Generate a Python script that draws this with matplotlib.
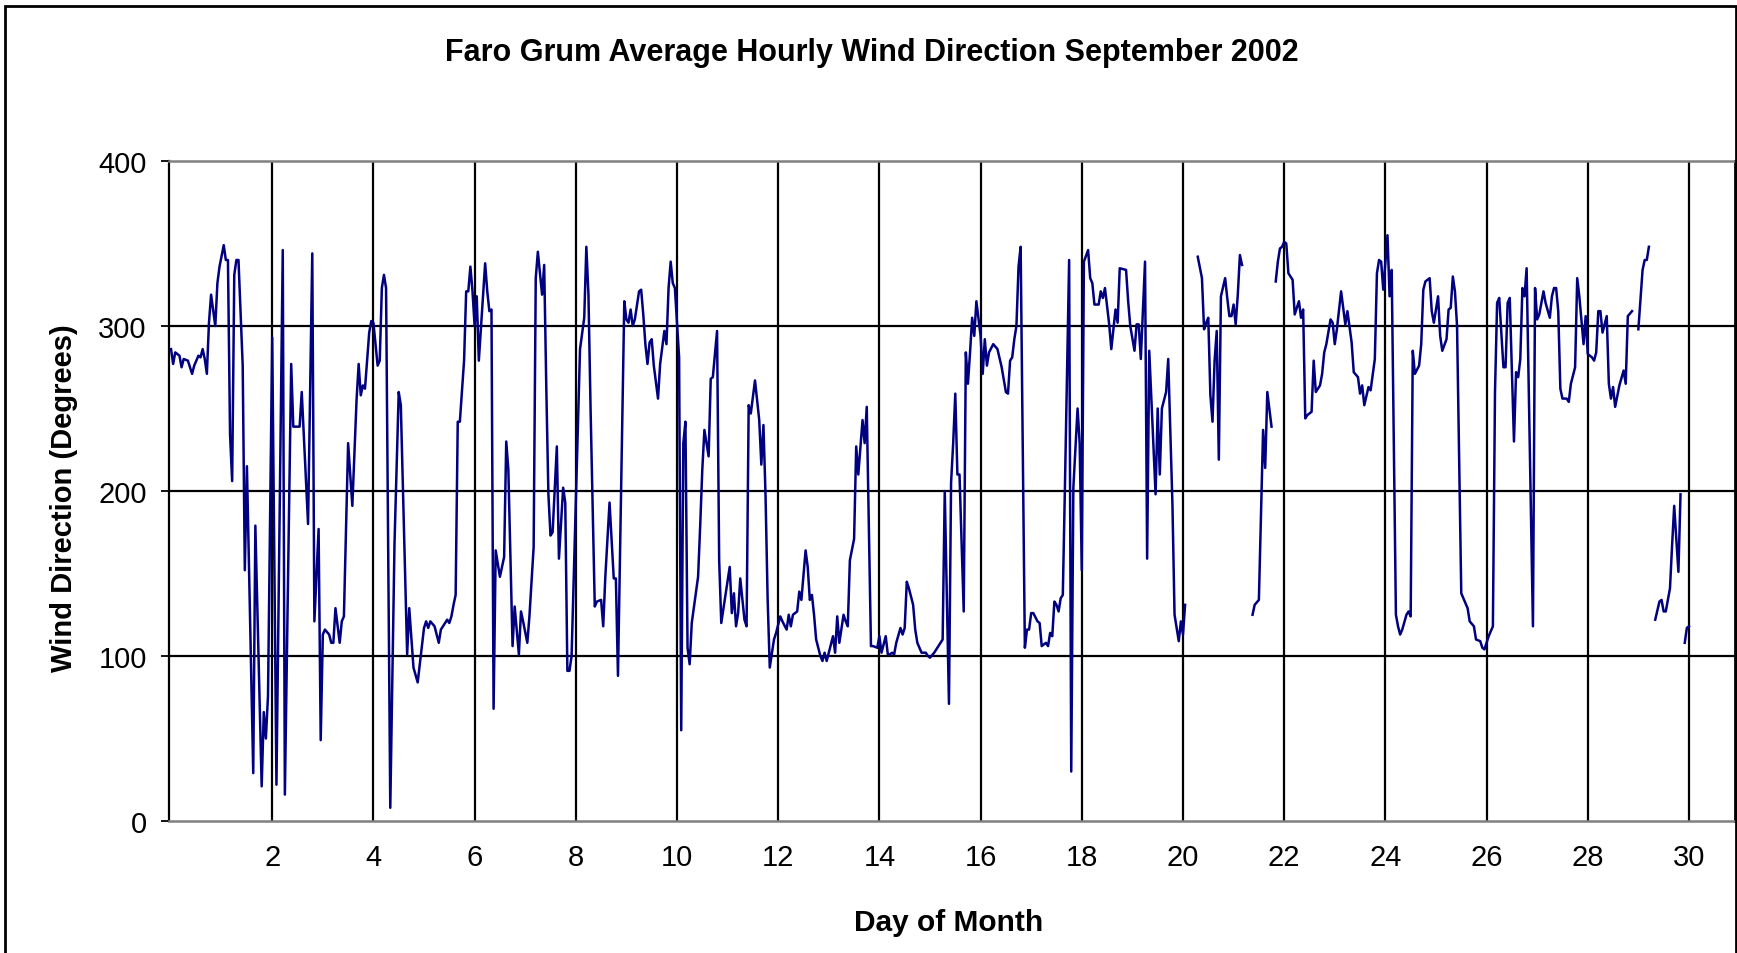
import numpy as np
import matplotlib
matplotlib.use("Agg")
import matplotlib.pyplot as plt
from matplotlib.patches import Rectangle

plt.rcParams['font.family'] = ['Liberation Sans', 'DejaVu Sans']

title = "Faro Grum Average Hourly Wind Direction September 2002"
x_label = "Day of Month"
y_label = "Wind Direction (Degrees)"
x_ticks = [2, 4, 6, 8, 10, 12, 14, 16, 18, 20, 22, 24, 26, 28, 30]
y_ticks = [0, 100, 200, 300, 400]

# (hour since start of month, wind direction in degrees)
seg_a = [(0,286),(1,277),(2,284),(4,282),(5,275),(6,280),(8,279),(9,275),(10,271),(11,276),
         (13,282),(14,281),(15,286),(16,280),(17,271),(18,302),(19,319),(21,300),(22,326),(23,336),
         (25,349),(26,340),(27,340),(28,234),(29,206),(30,331),(31,340),(32,340),(34,276),(35,152),
         (36,215),(39,29),(40,179),(43,21),(44,66),(45,50),(46,76),(48,293),(50,22),(53,346),
         (54,16),(57,277),(58,239),(61,239),(62,260),(65,180),(67,344),(68,121),(70,177),(71,49),
         (72,113),(73,116),(75,113),(76,108),(77,108),(78,129),(80,108),(81,121),(82,124),(84,229),
         (86,191),(88,255),(89,277),(90,258),(91,264),(92,262),(94,296),(95,303),(96,302),(98,276),
         (99,279),(100,323),(101,331),(102,323),(104,8),(106,168),(108,260),(109,252),(112,101),(113,129),
         (115,93),(117,84),(120,117),(121,121),(122,117),(123,121),(125,118),(126,113),(127,108),(128,116),
         (129,118),(131,122),(132,120),(133,124),(134,131),(135,137),(136,242),(137,242),(139,279),(140,321),
         (141,321),(142,336),(143,321),(144,300),(145,318),(146,279),(149,338),(150,321),(151,309),(152,310),
         (153,68),(154,164),(156,148),(158,160),(159,230),(160,213),(162,106),(163,130),(165,101),(166,127),
         (167,121),(169,108),(170,124),(172,166),(173,329),(174,345),(176,319),(177,337),(178,263),(179,198),
         (180,173),(181,175),(183,227),(184,159),(186,202),(187,193),(188,91),(189,91),(190,100),(194,286),
         (196,305),(197,348),(198,319),(199,250),(201,130),(202,133),(204,134),(205,118),(206,148),(208,193),
         (210,147),(211,147),(212,88),(215,315),(216,304),(217,302),(218,310),(219,300),(220,304),(222,321),
         (223,322),(224,307),(225,289),(226,277),(227,290),(228,292),(229,276),(231,256),(232,277),(234,297),
         (235,289),(236,323),(237,339),(238,326),(239,323),(241,281),(242,55),(243,229),(244,242),(245,105),
         (246,95),(247,120),(250,148),(251,179),(252,213),(253,237),(255,221),(256,268),(257,269),(259,297),
         (260,158),(261,120),(263,137),(265,154),(266,126),(267,138),(268,118),(269,126),(270,147),(272,122),
         (273,118),(274,252),(275,247),(277,267),(279,243),(280,216),(281,240),(282,197),(283,134),(284,93),
         (286,110),(287,114),(289,124),(290,121),(292,116),(293,125),(294,118),(295,125),(297,127),(298,139),
         (299,134),(301,164),(302,154),(303,134),(304,137),(305,125),(306,110),(308,100),(309,97),(310,102),
         (311,97),(312,102),(314,112),(315,102),(316,124),(317,108),(319,125),(320,121),(321,118),(322,158),
         (324,171),(325,227),(326,210),(328,243),(329,229),(330,251),(332,106),(333,106),(335,105),(336,112),
         (337,102),(339,112),(340,101),(341,101),(342,102),(343,101),(344,108),(346,117),(347,113),(348,117),
         (349,145),(350,141),(352,131),(353,116),(354,108),(356,102),(358,102),(359,100),(360,99),(362,102),
         (363,104),(364,106),(366,110),(367,200),(369,71),(370,205),(371,229),(372,259),(373,210),(374,210),
         (376,127),(377,284),(378,265),(379,284),(380,305),(381,294),(382,315),(384,294),(385,271),(386,292),
         (387,276),(388,284),(390,289),(392,286),(394,275),(396,260),(397,259),(398,279),(399,281),(400,292),
         (401,300),(402,336),(403,348),(405,105),(406,116),(407,116),(408,126),(409,126),(411,121),(412,120),
         (413,106),(415,108),(416,106),(417,114),(418,112),(419,133),(420,131),(421,127),(422,135),(423,137),
         (424,202),(426,340),(427,30),(428,202),(430,250),(431,229),(432,152),(433,339),(435,346),(436,329),
         (437,326),(438,313),(440,313),(441,321),(442,317),(443,323),(445,301),(446,286),(448,310),(449,302),
         (450,335),(453,334),(454,315),(455,300),(457,285),(458,301),(459,301),(460,280),(462,339),(463,159),
         (464,285),(467,198),(468,250),(469,210),(470,250),(472,260),(473,280),(475,192),(476,125),(477,117),
         (478,109),(479,121),(480,113),(481,131)]
seg_b = [(487,342),(489,329),(490,298),(491,302),(492,305),(493,258),(494,242),(495,279),(496,297),(497,219),
         (498,318),(500,329),(501,317),(502,306),(503,306),(504,313),(505,301),(506,319),(507,343),(508,337)]
seg_c = [(513,125),(514,131),(516,134),(518,237),(519,214),(520,260),(522,239)]
seg_d = [(524,327),(525,339),(526,347),(527,348),(528,351),(529,350),(530,332),(531,330),(532,328),(533,307),
         (535,315),(536,305),(537,310),(538,244),(539,246),(541,248),(542,279),(543,260),(545,264),(546,271),
         (547,284),(548,289),(550,304),(551,302),(552,289),(553,298),(555,321),(557,301),(558,309),(560,290),
         (561,272),(563,269),(564,259),(565,264),(566,252),(568,263),(569,261),(571,280),(572,332),(573,340),
         (574,339),(575,322),(577,355),(578,318),(579,334),(581,125),(582,118),(583,113),(584,116),(586,125),
         (587,127),(588,124),(589,285),(590,271),(592,276),(593,289),(594,322),(595,327),(597,329),(598,309),
         (599,302),(601,318),(602,294),(603,285),(605,292),(606,310),(607,311),(608,330),(609,321),(610,300),
         (612,138),(615,129),(616,121),(618,118),(619,110),(621,109),(622,105),(623,104),(625,112),(627,118),
         (628,260),(629,314),(630,317),(632,275),(633,275),(634,314),(635,317),(637,230),(638,272),(639,269),
         (640,280),(641,323),(642,318),(643,335),(646,118),(647,323),(648,304),(649,307),(651,321),(652,314),
         (654,305),(655,318),(656,323),(657,323),(658,309),(659,262),(660,256),(662,256),(663,254),(664,265),
         (666,275),(667,329),(668,318),(670,289),(671,306),(672,283),(674,281),(675,279),(676,284),(677,309),
         (678,309),(679,296),(681,306),(682,265),(683,256),(684,263),(685,251),(687,264),(689,273),(690,265),
         (691,306),(693,309)]
seg_e = [(696,298),(697,316),(698,334),(699,340),(700,340),(701,348)]
seg_f = [(704,122),(706,133),(707,134),(708,127),(709,127),(711,141),(712,167),(713,191),(715,151),(716,198)]
seg_g = [(718,108),(719,117),(720,118)]

segments = [seg_a, seg_b, seg_c, seg_d, seg_e, seg_f, seg_g]

xs, ys = [], []
for seg in segments:
    for h, v in seg:
        xs.append(h / 24.0)
        ys.append(v)
    xs.append(np.nan)
    ys.append(np.nan)

W, H = 1737, 954
fig = plt.figure(figsize=(W / 100, H / 100), dpi=100)
fig.patch.set_facecolor('white')

left, right, top, bottom = 169, 1735, 162, 822
ax = fig.add_axes([left / W, 1 - bottom / H, (right - left) / W, (bottom - top) / H])

for yv in y_ticks[1:-1]:
    ax.axhline(yv, color='black', lw=1.6, zorder=1)
for xv in x_ticks:
    ax.axvline(xv, color='black', lw=1.6, zorder=1)

ax.plot(xs, ys, color='#000080', lw=1.8, zorder=3)

ax.set_xlim(-0.04, 30.91)
ax.set_ylim(0, 400)
ax.set_xticks(x_ticks)
ax.set_xticklabels([str(t) for t in x_ticks])
ax.set_yticks(y_ticks)
ax.set_yticklabels([str(t) for t in y_ticks])
ax.tick_params(axis='y', length=6, width=1.3, pad=10, labelsize=21, direction='out', colors='black')
ax.tick_params(axis='x', length=0, pad=16, labelsize=21)

ax.spines['left'].set_color('black')
ax.spines['left'].set_linewidth(1.6)
ax.spines['bottom'].set_color('#808080')
ax.spines['bottom'].set_linewidth(1.8)
ax.spines['top'].set_color('#808080')
ax.spines['top'].set_linewidth(1.8)
ax.spines['right'].set_color('black')
ax.spines['right'].set_linewidth(2.0)

fig.text(872 / W, 1 - 53 / H, title, ha='center', va='center', fontsize=22, fontweight='bold')
fig.text(64 / W, 1 - 498 / H, y_label, ha='center', va='center', rotation=90, fontsize=21, fontweight='bold')
fig.text(949 / W, 1 - 923 / H, x_label, ha='center', va='center', fontsize=21.5, fontweight='bold')

fig.patches.append(Rectangle((5 / W, -0.05), (1736 - 5) / W, 1.05 - 7 / H, transform=fig.transFigure,
                             fill=False, edgecolor='black', lw=2.0))

fig.savefig('out.png', dpi=100, facecolor='white')
